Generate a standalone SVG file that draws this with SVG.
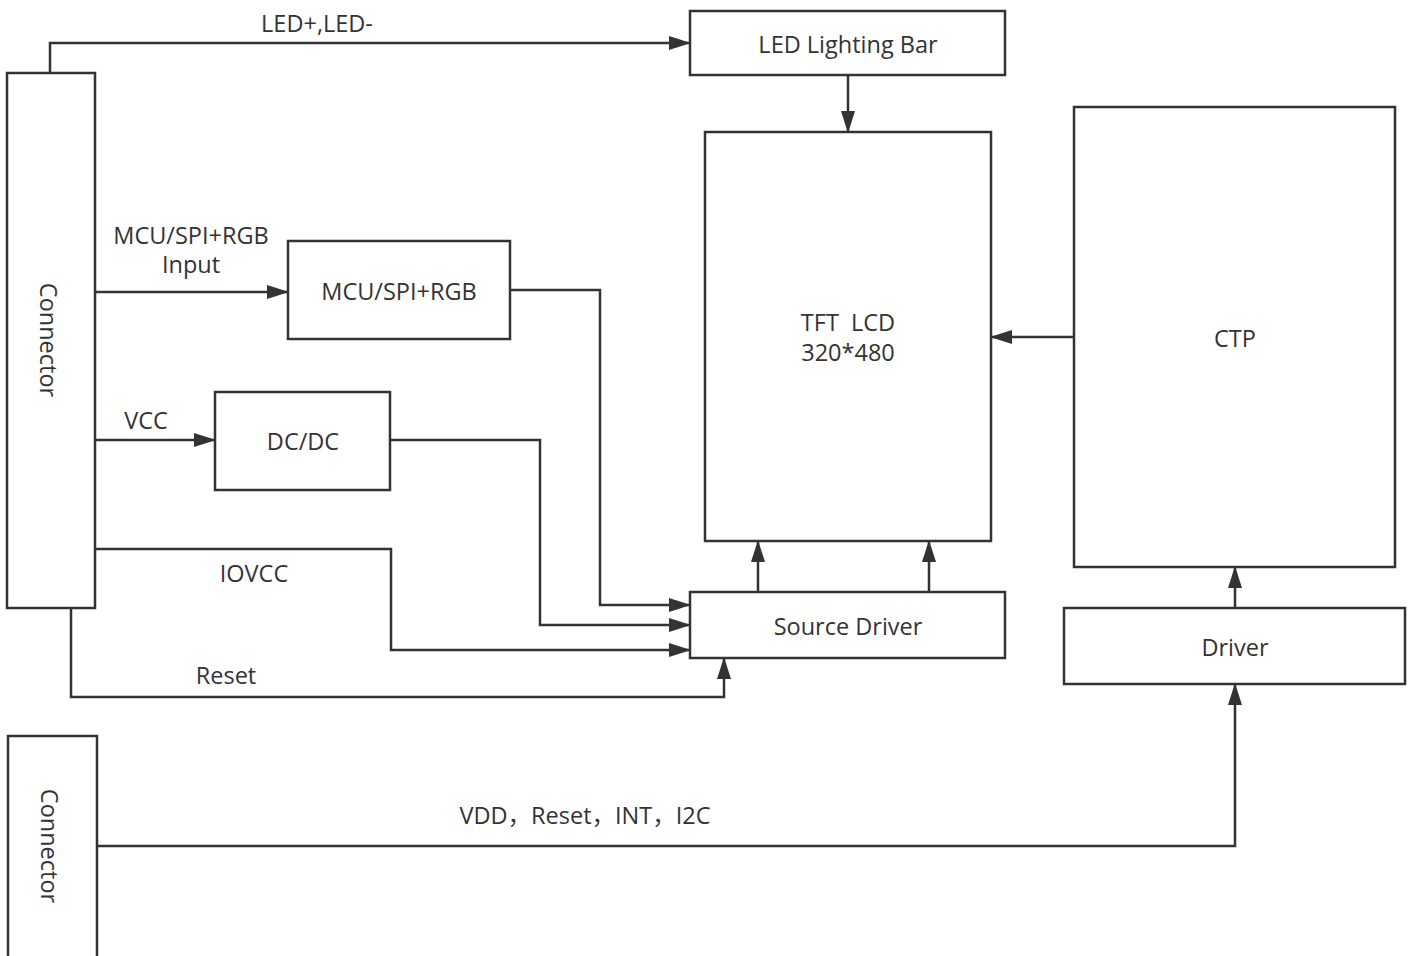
<svg xmlns="http://www.w3.org/2000/svg" width="1416" height="956" viewBox="0 0 1416 956">
<style>
.box{fill:#fff;stroke:#333;stroke-width:2.5}
.t{font-family:"Open Sans","Noto Sans","Noto Sans CJK SC",sans-serif;font-size:23.5px;fill:#333;text-anchor:middle}
.c{fill:none;stroke:#333;stroke-width:2.5;marker-end:url(#ah)}
</style>
<defs>
<marker id="ah" markerUnits="userSpaceOnUse" markerWidth="22" markerHeight="14" refX="21" refY="7" orient="auto">
<path d="M0,0 L22,7 L0,14 z" fill="#333"/>
</marker>
</defs>
<rect width="1416" height="956" fill="#fff"/>
<g id="connectors">
<path class="c" d="M50,73 V43 H690"/>
<path class="c" d="M848,75 V132"/>
<path class="c" d="M1074,337 H991"/>
<path class="c" d="M1235,608 V567"/>
<path class="c" d="M97,846 H1235 V684"/>
<path class="c" d="M95,292 H288"/>
<path class="c" d="M95,440 H215"/>
<path class="c" d="M510,290 H600 V605 H690"/>
<path class="c" d="M390,440 H540 V625 H690"/>
<path class="c" d="M95,549 H391 V650 H690"/>
<path class="c" d="M71,608 V697 H724 V658"/>
<path class="c" d="M758,592 V541"/>
<path class="c" d="M929,592 V541"/>
<text class="t" x="317" y="32">LED+,LED-</text>
<text class="t" x="191" y="244">MCU/SPI+RGB</text>
<text class="t" x="191" y="273">Input</text>
<text class="t" x="146" y="429">VCC</text>
<text class="t" x="254" y="582">IOVCC</text>
<text class="t" x="226" y="684">Reset</text>
<text class="t" x="585" y="824">VDD，Reset，INT，I2C</text>
</g>
<g id="connector-top">
<rect class="box" x="7" y="73" width="88" height="535"/>
<text class="t" transform="translate(40,340) rotate(90)">Connector</text>
</g>
<g id="connector-bottom">
<rect class="box" x="8" y="736" width="89" height="224"/>
<text class="t" transform="translate(41,846) rotate(90)">Connector</text>
</g>
<g id="led-bar">
<rect class="box" x="690" y="11" width="315" height="64"/>
<text class="t" x="848" y="53">LED Lighting Bar</text>
</g>
<g id="tft-lcd">
<rect class="box" x="705" y="132" width="286" height="409"/>
<text class="t" x="848" y="331" xml:space="preserve">TFT  LCD</text>
<text class="t" x="848" y="361">320*480</text>
</g>
<g id="ctp">
<rect class="box" x="1074" y="107" width="321" height="460"/>
<text class="t" x="1235" y="347">CTP</text>
</g>
<g id="driver">
<rect class="box" x="1064" y="608" width="341" height="76"/>
<text class="t" x="1235" y="656">Driver</text>
</g>
<g id="source-driver">
<rect class="box" x="690" y="592" width="315" height="66"/>
<text class="t" x="848" y="635">Source Driver</text>
</g>
<g id="mcu">
<rect class="box" x="288" y="241" width="222" height="98"/>
<text class="t" x="399" y="300">MCU/SPI+RGB</text>
</g>
<g id="dcdc">
<rect class="box" x="215" y="392" width="175" height="98"/>
<text class="t" x="303" y="450">DC/DC</text>
</g>
</svg>
